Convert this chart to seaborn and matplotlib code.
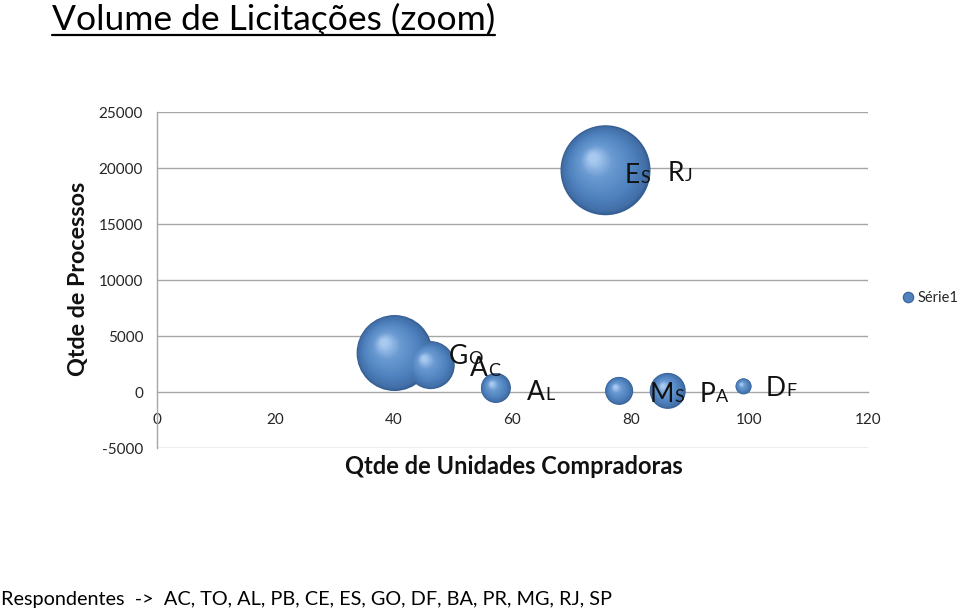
import numpy as np
import pandas as pd
import matplotlib
matplotlib.use("Agg")
import matplotlib.pyplot as plt
import matplotlib.transforms as mtransforms
from matplotlib.colors import LinearSegmentedColormap
from matplotlib.lines import Line2D
import seaborn as sns

# ---------------- data ----------------
title = "Volume de Licitações (zoom)"
x_label = "Qtde de Unidades Compradoras"
y_label = "Qtde de Processos"
footer = "Respondentes  ->  AC, TO, AL, PB, CE, ES, GO, DF, BA, PR, MG, RJ, SP"
series_name = "Série1"

units = [40.1, 46.2, 57.2, 75.7, 78.0, 86.2, 99.0]          # Qtde de Unidades Compradoras
processes = [3480, 2400, 360, 19800, 100, 100, 500]         # Qtde de Processos
bubble = [1444, 576, 225, 2025, 196, 324, 64]               # bubble size values

labels = ["GO", "AC", "AL", "ES", "RJ", "MS", "PA", "DF"]
label_x = [49.2, 52.8, 62.4, 78.9, 86.2, 83.1, 91.6, 102.7]
label_y = [2500, 1430, -710, 18660, 18840, -900, -900, -360]

xticks = [0, 20, 40, 60, 80, 100, 120]
yticks = [-5000, 0, 5000, 10000, 15000, 20000, 25000]

# ---------------- style ----------------
sns.set_theme(style="white")
FONT = ["Lato", "DejaVu Sans"]
plt.rcParams["font.family"] = FONT

DPI = 100
fig = plt.figure(figsize=(9.6, 6.13), dpi=DPI)
ax = fig.add_axes([157 / 960, 1 - 448 / 613, (868 - 157) / 960, (448 - 112) / 613])

df = pd.DataFrame({"units": units, "processes": processes, "bubble": bubble})

MAX_R_PX = 45.0
def area_pt2(v):
    r = MAX_R_PX * np.sqrt(v / max(bubble))
    return (2 * r * 72 / DPI) ** 2

base_col = "#365F94"
sns.scatterplot(data=df, x="units", y="processes", size="bubble",
                sizes=(area_pt2(min(bubble)), area_pt2(max(bubble))),
                size_norm=(min(bubble), max(bubble)),
                color=base_col, edgecolor="none", linewidth=0,
                legend=False, ax=ax, zorder=3)

# sphere shading layers
cmap = LinearSegmentedColormap.from_list(
    "sphere",
    [(0.0, "#365F94"), (0.06, "#426FA8"), (0.3, "#4F82BE"),
     (0.7, "#6A9AD2"), (1.0, "#A9CAF0")])
N = 28
for xv, yv, bv in zip(units, processes, bubble):
    r = MAX_R_PX * np.sqrt(bv / max(bubble))
    for i in range(1, N + 1):
        t = i / N
        f = 1 - 0.9 * t
        dx = -0.30 * r * (1 - f)
        dy = 0.30 * r * (1 - f)
        tr = ax.transData + mtransforms.ScaledTranslation(dx / DPI, dy / DPI, fig.dpi_scale_trans)
        ax.scatter([xv], [yv], s=(2 * r * f * 72 / DPI) ** 2, color=cmap(t),
                   edgecolors="none", linewidths=0, transform=tr, zorder=3 + i * 0.001)

# axes
ax.set_xlim(0, 120)
ax.set_ylim(-5000, 25000)
ax.set_xticks(xticks)
ax.set_yticks(yticks)
ax.set_xticklabels([str(v) for v in xticks])
ax.set_yticklabels([str(v) for v in yticks])
grid_col = "#A6A6A6"
for yv in yticks:
    if yv != 0:
        ax.axhline(yv, color=grid_col, lw=1.0, zorder=1)
for s in ["top", "right"]:
    ax.spines[s].set_visible(False)
ax.spines["left"].set_color(grid_col)
ax.spines["left"].set_linewidth(1.0)
ax.spines["bottom"].set_position(("data", 0))
ax.spines["bottom"].set_color(grid_col)
ax.spines["bottom"].set_linewidth(1.0)
ax.tick_params(axis="x", direction="out", length=5, width=1, color=grid_col,
               pad=10, labelsize=11, labelcolor="#262626")
ax.tick_params(axis="y", direction="out", length=5, width=1, color=grid_col,
               pad=5, labelsize=11, labelcolor="#262626")
ax.set_xlabel("")
ax.set_ylabel("")
ax.set_facecolor("white")

# data labels (big first letter, smaller second letter, shared baseline)
for lab, lx, ly in zip(labels, label_x, label_y):
    t1 = ax.text(lx, ly, lab[0], fontsize=19, ha="left", va="baseline",
                 color="#111111", zorder=6, family=FONT)
    ax.annotate(lab[1], xy=(1, ly), xycoords=(t1, "data"), xytext=(0.3, 0),
                textcoords="offset points", fontsize=13, ha="left", va="baseline",
                color="#111111", zorder=6, family=FONT)

# axis titles
fig.text(79 / 960, 1 - 279 / 613, y_label, rotation=90, ha="center", va="center",
         fontsize=16.8, fontweight="bold", color="#111111")
fig.text(514 / 960, 1 - 467 / 613, x_label, ha="center", va="center",
         fontsize=17, fontweight="bold", color="#111111")

# title with underline
tt = fig.text(52 / 960, 1 - 19 / 613, title, ha="left", va="center",
              fontsize=25.5, color="#000000")

# footer
fig.text(1 / 960, 1 - 599 / 613, footer, ha="left", va="center",
         fontsize=14.3, color="#000000")

# legend
handle = Line2D([], [], marker="o", linestyle="none", markersize=7.5,
                markerfacecolor="#4F82BE", markeredgecolor="#365F94", markeredgewidth=0.8)
fig.legend([handle], [series_name], loc="center left",
           bbox_to_anchor=(899 / 960, 1 - 298 / 613), frameon=False,
           fontsize=10.5, handletextpad=0.1, borderaxespad=0, borderpad=0,
           handlelength=1.2)

fig.canvas.draw()
bb = tt.get_window_extent(fig.canvas.get_renderer())
uy = bb.y0 + 0.5
fig.add_artist(Line2D([bb.x0 / 960, bb.x1 / 960], [uy / 613, uy / 613],
                      transform=fig.transFigure, color="black", lw=1.6))

fig.savefig("out.png", dpi=DPI)
